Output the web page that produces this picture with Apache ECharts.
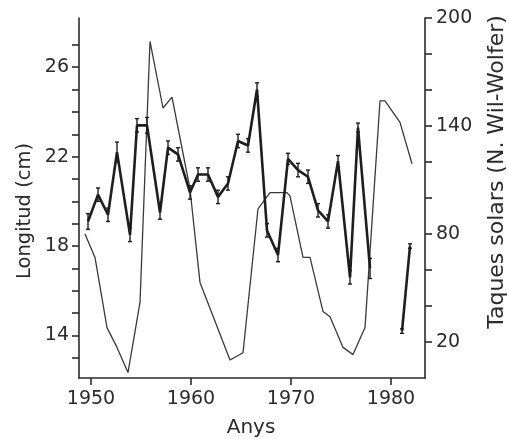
<!DOCTYPE html>
<html>
<head>
<meta charset="utf-8">
<script src="https://cdn.jsdelivr.net/npm/echarts@6/dist/echarts.min.js"></script>
<style>
html, body { margin: 0; padding: 0; background: #fff; }
#chart { width: 509px; height: 439px; }
</style>
</head>
<body>
<div id="chart"></div>
<script>
// longitud (cm), eix esquerre
var lengthYears = [1949.7, 1950.7, 1951.7, 1952.6, 1953.9, 1954.6, 1955.6, 1956.9, 1957.7, 1958.7,
    1959.9, 1960.7, 1961.7, 1962.7, 1963.7, 1964.7, 1965.7, 1966.6, 1967.6, 1968.7,
    1969.7, 1970.7, 1971.7, 1972.7, 1973.7, 1974.7, 1975.9, 1976.7, 1977.9, 1981.1, 1981.9];
var lengthValues = [19.1, 20.3, 19.4, 22.2, 18.5, 23.4, 23.4, 19.5, 22.4, 22.1,
    20.4, 21.2, 21.2, 20.2, 20.8, 22.7, 22.5, 25.0, 18.7, 17.6,
    21.9, 21.4, 21.1, 19.6, 19.1, 21.8, 16.6, 23.3, 17.0, 14.2, 18.0];
var lengthErr = [0.35, 0.3, 0.3, 0.45, 0.3, 0.3, 0.35, 0.3, 0.3, 0.3,
    0.3, 0.3, 0.3, 0.3, 0.3, 0.3, 0.3, 0.3, 0.3, 0.3,
    0.25, 0.3, 0.3, 0.3, 0.3, 0.25, 0.3, 0.2, 0.45, 0.1, 0.1];

// taques solars, eix dret
var sunYears = [1949.4, 1950.4, 1951.6, 1952.6, 1953.7, 1954.9, 1955.9, 1957.2, 1958.1, 1959.9,
    1960.9, 1963.9, 1965.2, 1966.7, 1967.9, 1969.6, 1969.9, 1971.2, 1971.9, 1973.2,
    1973.9, 1975.2, 1976.2, 1977.4, 1978.9, 1979.4, 1980.9, 1982.1];
var sunValues = [80, 67, 28, 17, 3, 42, 187, 150, 156, 105,
    53, 10, 14, 94, 103, 103, 101, 67, 67, 37,
    34, 17, 13, 28, 154, 154, 142, 119];

var xTicks = [1950, 1960, 1970, 1980];
var leftTicks = [13, 14, 15, 16, 17, 18, 19, 20, 21, 22, 23, 24, 25, 26, 27];
var leftLabels = [14, 18, 22, 26];
var rightTicks = [20, 40, 60, 80, 100, 120, 140, 160, 180, 200];
var rightLabels = [20, 80, 140, 200];

var ink = '#2b2b2b';
var font = 'DejaVu Sans';

var lengthData = [];
var errData = [];
for (var i = 0; i < lengthYears.length; i++) {
    if (i > 0 && lengthYears[i] - lengthYears[i - 1] > 2) {
        lengthData.push(['-', '-']); // buit 1978-1981
    }
    lengthData.push([lengthYears[i], lengthValues[i]]);
    errData.push([lengthYears[i], lengthValues[i], lengthErr[i]]);
}
var sunData = sunYears.map(function (y, i) { return [y, sunValues[i]]; });

var myChart = echarts.init(document.getElementById('chart'));

var axisLine = { show: true, lineStyle: { color: ink, width: 1.6 } };

option = {
    animation: false,
    backgroundColor: '#fff',
    grid: {
        left: 79, right: 84, top: 18, bottom: 61,
        containLabel: false,
        outerBoundsMode: 'none'
    },
    xAxis: {
        type: 'value',
        min: 1948.8,
        max: 1983.4,
        axisLine: axisLine,
        splitLine: { show: false },
        axisTick: { show: true, length: 7, customValues: xTicks, lineStyle: { color: ink, width: 1.6 } },
        axisLabel: {
            customValues: xTicks, margin: 12,
            color: ink, fontFamily: font, fontSize: 19,
            formatter: function (v) { return String(v); }
        }
    },
    yAxis: [{
        type: 'value',
        position: 'left',
        min: 12.1,
        max: 28.2,
        axisLine: axisLine,
        splitLine: { show: false },
        axisTick: { show: true, length: 7, customValues: leftTicks, lineStyle: { color: ink, width: 1.6 } },
        axisLabel: {
            customValues: leftLabels, margin: 10,
            color: ink, fontFamily: font, fontSize: 19
        }
    }, {
        type: 'value',
        position: 'right',
        min: 0,
        max: 200,
        axisLine: axisLine,
        splitLine: { show: false },
        axisTick: { show: true, length: 7, customValues: rightTicks, lineStyle: { color: ink, width: 1.6 } },
        axisLabel: {
            customValues: rightLabels, margin: 11,
            color: ink, fontFamily: font, fontSize: 19
        }
    }],
    graphic: [
        {
            type: 'text', x: 251, y: 428,
            style: { text: 'Anys', fill: ink, font: '20px "DejaVu Sans"', align: 'center', verticalAlign: 'middle' }
        },
        {
            type: 'text', x: 25, y: 211, rotation: Math.PI / 2,
            style: { text: 'Longitud (cm)', fill: ink, font: '19.5px "DejaVu Sans"', align: 'center', verticalAlign: 'middle' }
        },
        {
            type: 'text', x: 497, y: 172, rotation: Math.PI / 2,
            style: { text: 'Taques solars (N. Wil-Wolfer)', fill: ink, font: '22px "DejaVu Sans"', align: 'center', verticalAlign: 'middle' }
        }
    ],
    series: [
        {
            name: 'Taques solars',
            type: 'line',
            yAxisIndex: 1,
            data: sunData,
            symbol: 'none',
            lineStyle: { color: '#3a3a3a', width: 1.3 },
            z: 2
        },
        {
            name: 'Longitud',
            type: 'line',
            yAxisIndex: 0,
            data: lengthData,
            symbol: 'none',
            connectNulls: false,
            lineStyle: { color: '#1e1e1e', width: 2.6 },
            z: 3
        },
        {
            name: 'error',
            type: 'custom',
            yAxisIndex: 0,
            data: errData,
            encode: { x: 0, y: 1 },
            z: 4,
            renderItem: function (params, api) {
                var x = api.value(0), y = api.value(1), e = api.value(2);
                var top = api.coord([x, y + e]);
                var bot = api.coord([x, y - e]);
                var st = { stroke: '#1e1e1e', lineWidth: 1.4 };
                return {
                    type: 'group',
                    children: [
                        { type: 'line', shape: { x1: top[0], y1: top[1], x2: bot[0], y2: bot[1] }, style: st },
                        { type: 'line', shape: { x1: top[0] - 2, y1: top[1], x2: top[0] + 2, y2: top[1] }, style: st },
                        { type: 'line', shape: { x1: bot[0] - 2, y1: bot[1], x2: bot[0] + 2, y2: bot[1] }, style: st }
                    ]
                };
            }
        }
    ]
};
myChart.setOption(option);
</script>
</body>
</html>
